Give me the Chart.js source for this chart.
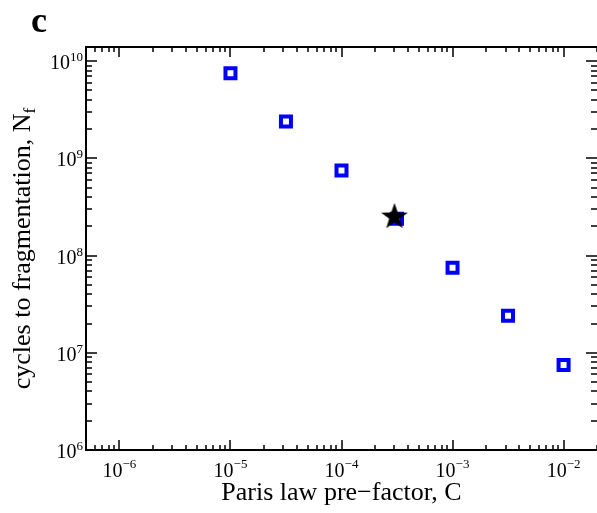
<!DOCTYPE html>
<html lang="en">
<head>
  <meta charset="UTF-8">
  <title>Cycles to fragmentation vs Paris law pre-factor</title>
  <script src="https://cdn.jsdelivr.net/npm/chart.js@4.4.1/dist/chart.umd.min.js"></script>
  <style>
    body { margin: 0; background: #fff; }
  </style>
</head>
<body>
<canvas id="myChart" width="597" height="513"></canvas>

<script>
    // data
    const parisC = [1e-5, 3.16e-5, 1e-4, 3.16e-4, 1e-3, 3.16e-3, 1e-2];
    const cyclesNf = [7.5e9, 2.4e9, 7.5e8, 2.4e8, 7.5e7, 2.4e7, 7.5e6];
    const starC = [3e-4];
    const starNf = [2.5e8];
    const xDecades = [-6, -5, -4, -3, -2];
    const yDecades = [6, 7, 8, 9, 10];

    const serif = "'Liberation Serif', 'DejaVu Serif', serif";

    // filled five point star used as marker
    function makeStar(r) {
        const c = document.createElement('canvas');
        c.width = 2 * r + 2;
        c.height = 2 * r + 2;
        const g = c.getContext('2d');
        g.beginPath();
        for (let i = 0; i < 10; i++) {
            const rad = i % 2 === 0 ? r : r * 0.4;
            const a = -Math.PI / 2 + i * Math.PI / 5;
            const px = r + 1 + rad * Math.cos(a);
            const py = r + 1 + rad * Math.sin(a);
            if (i === 0) g.moveTo(px, py); else g.lineTo(px, py);
        }
        g.closePath();
        g.fillStyle = '#000';
        g.fill();
        return c;
    }

    function logTicks(min, max) {
        const out = [];
        for (let d = Math.floor(Math.log10(min)); d <= Math.ceil(Math.log10(max)); d++) {
            for (let k = 1; k < 10; k++) {
                const v = k * Math.pow(10, d);
                if (v >= min * 0.999 && v <= max * 1.001) out.push({v: v, major: k === 1});
            }
        }
        return out;
    }

    function powerLabel(ctx, base, exp, x, y, align, raise) {
        ctx.font = '20px ' + serif;
        const w1 = ctx.measureText(base).width;
        ctx.font = '13px ' + serif;
        const w2 = ctx.measureText(exp).width;
        let start = align === 'center' ? x - (w1 + w2) / 2 : x - (w1 + w2);
        ctx.textAlign = 'left';
        ctx.textBaseline = 'alphabetic';
        ctx.font = '20px ' + serif;
        ctx.fillText(base, start, y);
        ctx.font = '13px ' + serif;
        ctx.fillText(exp, start + w1, y - raise);
    }

    const frame = {
        id: 'frame',
        beforeDatasetsDraw: (chart) => {
            const ctx = chart.ctx;
            const a = chart.chartArea;
            const xs = chart.scales.x;
            const ys = chart.scales.y;
            ctx.save();
            ctx.strokeStyle = '#000';
            ctx.lineWidth = 2;
            ctx.beginPath();
            ctx.moveTo(a.right, a.top);
            ctx.lineTo(a.left, a.top);
            ctx.lineTo(a.left, a.bottom);
            ctx.lineTo(a.right, a.bottom);
            ctx.stroke();

            ctx.lineWidth = 1.5;
            ctx.beginPath();
            logTicks(xs.min, xs.max).forEach(t => {
                const px = Math.round(xs.getPixelForValue(t.v));
                const len = t.major ? 10 : 5;
                ctx.moveTo(px, a.bottom);
                ctx.lineTo(px, a.bottom - len);
                ctx.moveTo(px, a.top);
                ctx.lineTo(px, a.top + len);
            });
            logTicks(ys.min, ys.max).forEach(t => {
                const py = Math.round(ys.getPixelForValue(t.v));
                const len = t.major ? 11 : 6;
                ctx.moveTo(a.left, py);
                ctx.lineTo(a.left + len, py);
                ctx.moveTo(a.right, py);
                ctx.lineTo(a.right - len, py);
            });
            ctx.stroke();
            ctx.restore();
        },
        afterDraw: (chart) => {
            const ctx = chart.ctx;
            const a = chart.chartArea;
            const xs = chart.scales.x;
            const ys = chart.scales.y;
            ctx.save();
            ctx.fillStyle = '#000';

            xDecades.forEach(d => {
                const px = xs.getPixelForValue(Math.pow(10, d));
                powerLabel(ctx, '10', '\u2212' + Math.abs(d), px, a.bottom + 27, 'center', 9);
            });
            yDecades.forEach(d => {
                const py = ys.getPixelForValue(Math.pow(10, d));
                powerLabel(ctx, '10', String(d), a.left - 3, py + 8, 'right', 8);
            });

            // panel letter
            ctx.font = 'bold 36px ' + serif;
            ctx.textAlign = 'left';
            ctx.fillText('c', 31, 32);

            // x title
            ctx.font = '26px ' + serif;
            ctx.textAlign = 'center';
            ctx.fillText('Paris law pre\u2212factor, C', (a.left + a.right) / 2, 500);

            // y title with subscript
            ctx.translate(30, (a.top + a.bottom) / 2);
            ctx.rotate(-Math.PI / 2);
            const main = 'cycles to fragmentation, N';
            ctx.font = '26px ' + serif;
            const w1 = ctx.measureText(main).width;
            ctx.font = '17px ' + serif;
            const w2 = ctx.measureText('f').width;
            const x0 = -(w1 + w2) / 2;
            ctx.textAlign = 'left';
            ctx.font = '26px ' + serif;
            ctx.fillText(main, x0, 0);
            ctx.font = '17px ' + serif;
            ctx.fillText('f', x0 + w1, 5);
            ctx.restore();
        }
    };

    const ctx = document.getElementById('myChart');
    const myChart = new Chart(ctx, {
        type: 'scatter',
        data: {
            datasets: [{
                label: 'reference',
                data: starC.map((c, i) => ({x: c, y: starNf[i]})),
                pointStyle: makeStar(14),
                pointRadius: 14,
                pointHoverRadius: 14
            }, {
                label: 'Nf',
                data: parisC.map((c, i) => ({x: c, y: cyclesNf[i]})),
                pointStyle: 'rect',
                pointRadius: 7.07,
                pointHoverRadius: 7.07,
                pointBorderWidth: 4,
                pointHoverBorderWidth: 4,
                borderColor: '#0000ff',
                backgroundColor: '#ffffff'
            }]
        },
        plugins: [frame],
        options: {
            responsive: false,
            animation: false,
            layout: {autoPadding: false, padding: {top: 47, right: 0, left: 0, bottom: 0}},
            scales: {
                x: {
                    type: 'logarithmic',
                    min: 5e-7,
                    max: 2e-2,
                    grid: {display: false},
                    border: {display: false},
                    ticks: {display: false},
                    afterFit: (s) => { s.height = 63; }
                },
                y: {
                    type: 'logarithmic',
                    min: 1e6,
                    max: 1.4e10,
                    grid: {display: false},
                    border: {display: false},
                    ticks: {display: false},
                    afterFit: (s) => { s.width = 86; }
                }
            },
            plugins: {
                legend: {display: false},
                tooltip: {enabled: false}
            }
        }
    });
</script>

</body>
</html>
